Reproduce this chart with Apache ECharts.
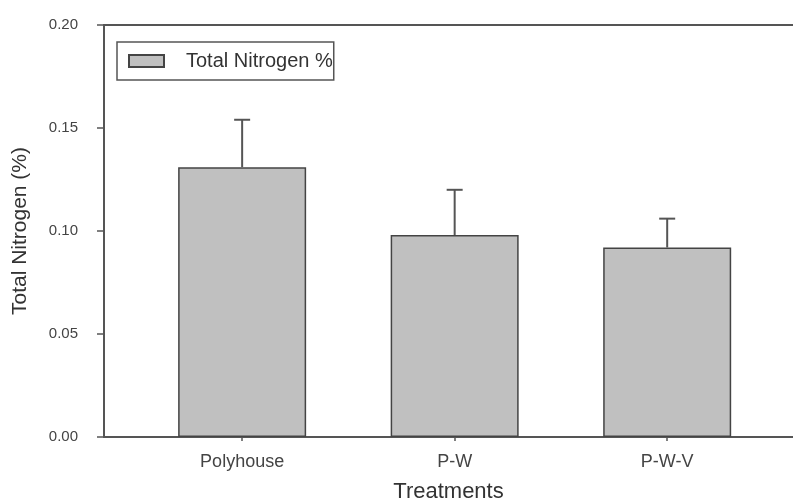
<!DOCTYPE html>
<html>
<head>
<meta charset="utf-8">
<script src="https://cdn.jsdelivr.net/npm/echarts@6/dist/echarts.min.js"></script>
<style>
  html, body { margin: 0; padding: 0; background: #fff; }
  #main { width: 793px; height: 501px; }
</style>
</head>
<body>
<div id="main"></div>
<script>
// data
var treatments = ['Polyhouse', 'P-W', 'P-W-V'];
var nitrogen = [0.131, 0.098, 0.092];
var nitrogenErr = [0.023, 0.022, 0.014];
var yTicks = [0, 0.05, 0.10, 0.15, 0.20];

var positions = treatments.map(function (t, i) { return i; });
var barData = nitrogen.map(function (v, i) { return [i, v]; });
var errData = nitrogen.map(function (v, i) { return [i, v, v + nitrogenErr[i]]; });

var axisColor = '#555';
var font = 'Liberation Sans, Arial, sans-serif';

var chart = echarts.init(document.getElementById('main'), null, { renderer: 'canvas' });

var option = {
  animation: false,
  backgroundColor: '#fff',
  grid: {
    left: 104,
    right: 0,
    top: 25,
    bottom: 64,
    outerBoundsMode: 'none'
  },
  legend: {
    left: 117,
    top: 42,
    padding: [9, 1, 9, 11],
    borderColor: axisColor,
    borderWidth: 1.5,
    icon: 'rect',
    itemWidth: 35,
    itemHeight: 12,
    data: ['Total Nitrogen %'],
    textStyle: {
      fontFamily: font,
      fontSize: 20,
      color: '#333',
      padding: [0, 0, 0, 17]
    }
  },
  xAxis: [{
    type: 'value',
    min: -0.65,
    max: 2.592,
    splitLine: { show: false },
    axisLine: { show: true, onZero: false, lineStyle: { color: axisColor, width: 2 } },
    axisTick: {
      show: true,
      customValues: positions,
      length: 4,
      lineStyle: { color: axisColor, width: 1.5 }
    },
    axisLabel: {
      customValues: positions,
      fontFamily: font,
      fontSize: 18,
      color: '#444',
      margin: 16,
      formatter: function (v) { return treatments[Math.round(v)]; }
    },
    name: 'Treatments',
    nameLocation: 'middle',
    nameGap: 44,
    nameTextStyle: { fontFamily: font, fontSize: 22, color: '#333' }
  }, {
    // top frame line
    type: 'value',
    position: 'top',
    min: -0.65,
    max: 2.592,
    splitLine: { show: false },
    axisLine: { show: true, onZero: false, lineStyle: { color: axisColor, width: 2 } },
    axisTick: { show: false },
    axisLabel: { show: false }
  }],
  yAxis: {
    type: 'value',
    min: 0,
    max: 0.2,
    interval: 0.05,
    splitLine: { show: false },
    axisLine: { show: true, onZero: false, lineStyle: { color: axisColor, width: 2 } },
    axisTick: { show: true, inside: false, length: 7, lineStyle: { color: axisColor, width: 1.5 } },
    axisLabel: {
      customValues: yTicks,
      fontFamily: font,
      fontSize: 15,
      color: '#444',
      margin: 26,
      formatter: function (v) { return v.toFixed(2); }
    },
    name: 'Total Nitrogen (%)',
    nameLocation: 'middle',
    nameGap: 73,
    nameRotate: 90,
    nameTextStyle: { fontFamily: font, fontSize: 21, color: '#333' }
  },
  series: [{
    name: 'Total Nitrogen %',
    type: 'bar',
    barWidth: 128,
    data: barData,
    itemStyle: { color: '#c0c0c0', borderColor: '#444', borderWidth: 1.5 }
  }, {
    type: 'custom',
    data: errData,
    z: 1,
    renderItem: function (params, api) {
      var x = api.value(0);
      var low = api.coord([x, api.value(1)]);
      var high = api.coord([x, api.value(2)]);
      var half = 8;
      var style = { stroke: axisColor, lineWidth: 2 };
      return {
        type: 'group',
        children: [
          { type: 'line', shape: { x1: low[0], y1: low[1], x2: high[0], y2: high[1] }, style: style },
          { type: 'line', shape: { x1: high[0] - half, y1: high[1], x2: high[0] + half, y2: high[1] }, style: style }
        ]
      };
    }
  }]
};

chart.setOption(option);
</script>
</body>
</html>
